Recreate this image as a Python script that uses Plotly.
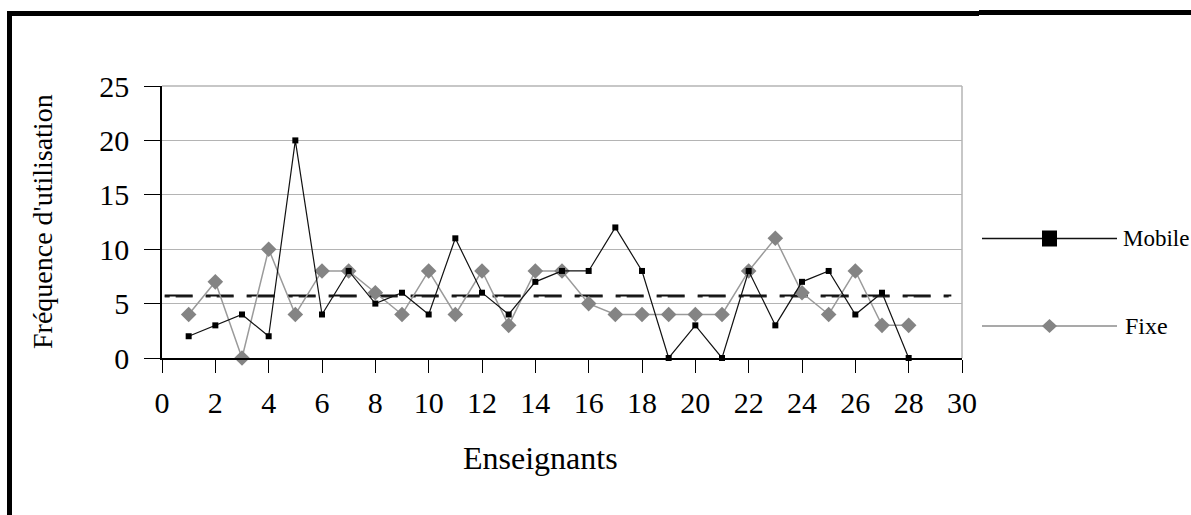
import plotly.graph_objects as go
import numpy as np

# ---- data ----
enseignants = list(range(1, 29))
mobile = [2, 3, 4, 2, 20, 4, 8, 5, 6, 4, 11, 6, 4, 7, 8, 8, 12, 8, 0, 3, 0, 8, 3, 7, 8, 4, 6, 0]
fixe = [4, 7, 0, 10, 4, 8, 8, 6, 4, 8, 4, 8, 3, 8, 8, 5, 4, 4, 4, 4, 4, 8, 11, 6, 4, 8, 3, 3]
x_ticks = list(range(0, 31, 2))
y_ticks = [0, 5, 10, 15, 20, 25]
series_names = ["Mobile", "Fixe"]
x_title = "Enseignants"
y_title = "Fréquence d'utilisation"

W, H = 1191, 515
L, R, T, B = 162, 962, 86, 358  # plot area in pixels
FONT = "Liberation Serif"


def X(px):
    return (px - L) / (R - L)


def Y(py):
    return (B - py) / (B - T)


mean_mobile = float(np.mean(mobile))
mean_fixe = float(np.mean(fixe))

fig = go.Figure()

# mean lines (computed from data)
fig.add_trace(go.Scatter(x=[0.1, 29.6], y=[mean_fixe, mean_fixe], mode="lines",
                         line=dict(color="#333333", width=1.6, dash="5px,6px,17px,13px"),
                         showlegend=False, hoverinfo="skip"))
fig.add_trace(go.Scatter(x=[0.1, 29.6], y=[mean_mobile, mean_mobile], mode="lines",
                         line=dict(color="#111111", width=2, dash="28px,13px"),
                         showlegend=False, hoverinfo="skip"))

fig.add_trace(go.Scatter(x=enseignants, y=fixe, mode="lines+markers", name=series_names[1],
                         line=dict(color="#9a9a9a", width=1.5),
                         marker=dict(symbol="diamond", size=12, color="#848484"),
                         showlegend=False, cliponaxis=False))
fig.add_trace(go.Scatter(x=enseignants, y=mobile, mode="lines+markers", name=series_names[0],
                         line=dict(color="#111111", width=1.2),
                         marker=dict(symbol="square", size=6, color="#000000"),
                         showlegend=False, cliponaxis=False))

shapes = []
# plot area border (top and right, gray)
shapes.append(dict(type="line", xref="paper", yref="paper", x0=0, x1=1, y0=1, y1=1,
                   line=dict(color="#b4b4b4", width=1.5)))
shapes.append(dict(type="line", xref="paper", yref="paper", x0=1, x1=1, y0=0, y1=1,
                   line=dict(color="#b4b4b4", width=1.5)))
# outer frame
shapes.append(dict(type="line", xref="paper", yref="paper", x0=X(7), x1=X(979), y0=Y(13.5), y1=Y(13.5),
                   line=dict(color="#000000", width=5)))
shapes.append(dict(type="line", xref="paper", yref="paper", x0=X(979), x1=X(1195), y0=Y(12.5), y1=Y(12.5),
                   line=dict(color="#000000", width=5)))
shapes.append(dict(type="line", xref="paper", yref="paper", x0=X(9.5), x1=X(9.5), y0=Y(11), y1=Y(520),
                   line=dict(color="#000000", width=5)))
# legend
shapes.append(dict(type="line", xref="paper", yref="paper", x0=X(982), x1=X(1117), y0=Y(238.5), y1=Y(238.5),
                   line=dict(color="#111111", width=1.3)))
shapes.append(dict(type="rect", xref="paper", yref="paper", x0=X(1042), x1=X(1057), y0=Y(230.5), y1=Y(246.5),
                   line=dict(width=0), fillcolor="#000000"))
shapes.append(dict(type="line", xref="paper", yref="paper", x0=X(982), x1=X(1117), y0=Y(326), y1=Y(326),
                   line=dict(color="#8c8c8c", width=1.3)))
cx, cy = 1049.5, 326
path = "M {} {} L {} {} L {} {} L {} {} Z".format(X(cx - 7.5), Y(cy), X(cx), Y(cy - 7), X(cx + 7.5), Y(cy), X(cx), Y(cy + 7))
shapes.append(dict(type="path", xref="paper", yref="paper", path=path,
                   line=dict(width=0), fillcolor="#848484"))

annotations = [
    dict(text=series_names[0], xref="paper", yref="paper", x=X(1121), y=Y(238.5), xanchor="left", yanchor="middle",
         showarrow=False, font=dict(family=FONT, size=23, color="#000000")),
    dict(text=series_names[1], xref="paper", yref="paper", x=X(1123), y=Y(326), xanchor="left", yanchor="middle",
         showarrow=False, font=dict(family=FONT, size=24, color="#000000")),
    dict(text=x_title, xref="paper", yref="paper", x=X(540), y=Y(458), xanchor="center", yanchor="middle",
         showarrow=False, font=dict(family=FONT, size=32, color="#000000")),
    dict(text=y_title, xref="paper", yref="paper", x=X(42), y=Y(222), xanchor="center", yanchor="middle",
         textangle=-90, showarrow=False, font=dict(family=FONT, size=28, color="#000000")),
]

fig.update_layout(
    width=W, height=H,
    margin=dict(l=L, r=W - R, t=T, b=H - B, pad=0),
    paper_bgcolor="white", plot_bgcolor="white",
    font=dict(family=FONT, size=30, color="#000000"),
    showlegend=False,
    shapes=shapes,
    annotations=annotations,
    xaxis=dict(range=[0, 30], tickvals=x_ticks, ticktext=[str(v) for v in x_ticks],
               ticks="outside", ticklen=13, tickwidth=1.3, tickcolor="#000000",
               showline=True, linecolor="#000000", linewidth=1.5,
               showgrid=False, zeroline=False, ticklabelstandoff=4,
               tickfont=dict(family=FONT, size=30, color="#000000")),
    yaxis=dict(range=[0, 25], tickvals=y_ticks, ticktext=[str(v) for v in y_ticks],
               ticks="outside", ticklen=16, tickwidth=1.3, tickcolor="#000000",
               showline=True, linecolor="#000000", linewidth=1.5,
               showgrid=True, gridcolor="#b4b4b4", gridwidth=1.2, zeroline=False,
               ticklabelstandoff=9,
               tickfont=dict(family=FONT, size=30, color="#000000")),
)

fig.write_html("out.html", config={"displayModeBar": False},
               post_script="document.body.style.margin='0';")
